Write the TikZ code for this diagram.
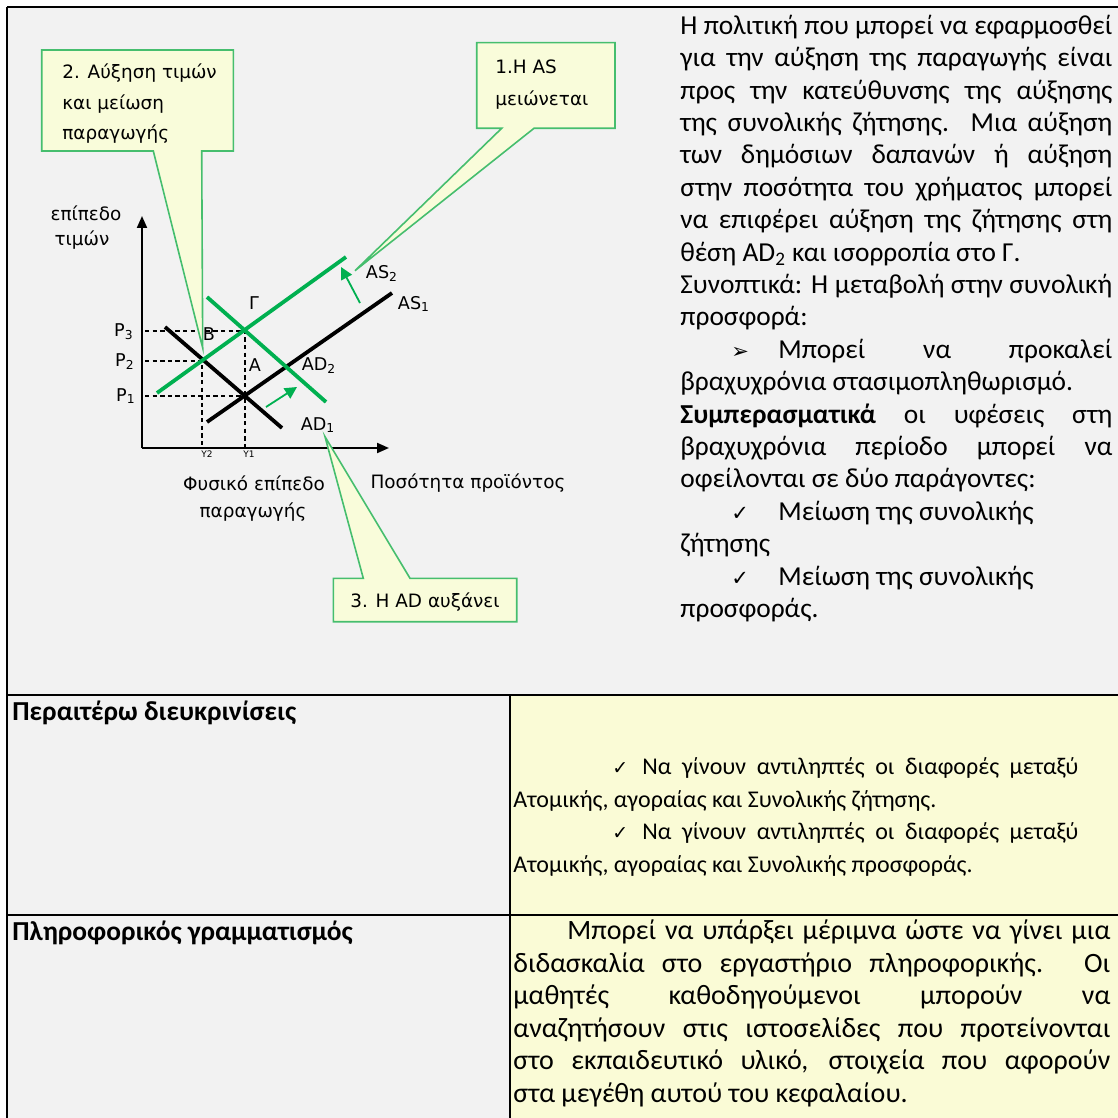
\documentclass[tikz,border=0pt]{standalone}
\usepackage{fontspec}
\setmainfont{Carlito}
\newfontfamily\chartfont{DejaVu Sans}
\newfontfamily\symfont{DejaVu Sans}
\usetikzlibrary{arrows.meta}
\definecolor{bggray}{RGB}{242,242,242}
\definecolor{cellyel}{RGB}{250,251,214}
\definecolor{cofill}{RGB}{249,252,218}
\definecolor{coline}{RGB}{70,190,110}
\definecolor{mgreen}{RGB}{0,176,80}
\newcommand\jl[2]{\hbox to #1{\spaceskip=0.22em plus 1fil minus 0.05em\relax #2}}
\begin{document}
\begin{tikzpicture}[x=0.5pt,y=-0.5pt,
  tbl/.style={line width=1.2pt},
  blk/.style={line width=1.9pt},
  gcurve/.style={line width=1.9pt, mgreen},
  dsh/.style={dash pattern=on 2.2pt off 1.6pt, line width=0.6pt},
  axis/.style={line width=1pt, -{Triangle[length=6pt,width=5pt]}},
  shiftarrow/.style={mgreen, line width=0.9pt, -{Triangle[length=6pt,width=6pt]}},
  callout/.style={fill=cofill, draw=coline, line width=0.8pt, line join=miter},
  ct/.style={font=\chartfont\fontsize{9.2pt}{11pt}\selectfont, inner sep=0},
  lbl/.style={font=\chartfont\fontsize{8.8pt}{10pt}\selectfont, inner sep=0},
  tiny/.style={font=\chartfont\fontsize{4.5pt}{5pt}\selectfont, inner sep=0},
  txt/.style={font=\fontsize{13.7pt}{16pt}\selectfont, inner sep=0, anchor=base west},
  stxt/.style={font=\fontsize{12pt}{14pt}\selectfont, inner sep=0, anchor=base west},
  ltxt/.style={font=\fontsize{14pt}{16pt}\selectfont, inner sep=0, anchor=base west},
  sym/.style={font=\symfont\fontsize{10.5pt}{12pt}\selectfont, inner sep=0, anchor=base west},
  ssym/.style={font=\symfont\fontsize{9.5pt}{11pt}\selectfont, inner sep=0, anchor=base west}]
\useasboundingbox (0,0) rectangle (1118,1118);
% backgrounds
\fill[bggray] (7,7) rectangle (1118,695);
\fill[bggray] (7,695) rectangle (510,1118);
\fill[cellyel] (510,695) rectangle (1118,1118);
% table lines
\draw[tbl] (7,7) -- (1118,7);
\draw[tbl] (7,7) -- (7,1118);
\draw[tbl] (7,695) -- (1118,695);
\draw[tbl] (7,915) -- (1118,915);
\draw[tbl] (510,695) -- (510,1118);

% ---------- chart ----------
\coordinate (O) at (142,448);
\coordinate (ytop) at (142,216);
\coordinate (xend) at (389,448);
\draw[axis] (O) -- (ytop);
\draw[axis] (O) -- (xend);
% dashed guides
\coordinate (p3a) at (145,331); \coordinate (G) at (245,331);
\coordinate (p2a) at (145,361); \coordinate (B) at (202,361);
\coordinate (p1a) at (145,396); \coordinate (E) at (245,396);
\coordinate (y2) at (202,448); \coordinate (y1) at (245,448);
\draw[dsh] (p3a) -- (G) -- (y1);
\draw[dsh] (p2a) -- (B) -- (y2);
\draw[dsh] (p1a) -- (E);
% curves
\coordinate (ad1a) at (165,327); \coordinate (ad1b) at (282,428);
\coordinate (as1a) at (207,422); \coordinate (as1b) at (392,293);
\coordinate (as2a) at (157,393); \coordinate (as2b) at (346,257);
\coordinate (ad2a) at (207,297); \coordinate (ad2b) at (326,402);
\draw[blk] (ad1a) -- (ad1b);
\draw[blk] (as1a) -- (as1b);
\draw[gcurve] (as2a) -- (as2b);
\draw[gcurve] (ad2a) -- (ad2b);
% shift arrows
\coordinate (sa1) at (266,407); \coordinate (sa2) at (297,387);
\coordinate (sb1) at (360,303); \coordinate (sb2) at (341,267);
\draw[shiftarrow] (sa1) -- (sa2);
\draw[shiftarrow] (sb1) -- (sb2);
% labels
\node[ct] (yl1) at (86,213) {επίπεδο};
\node[ct] (yl2) at (82,240) {τιμών};
\node[lbl, anchor=east] (P3) at (134,332) {P\textsubscript{3}};
\node[lbl, anchor=east] (P2) at (135,362) {P\textsubscript{2}};
\node[lbl, anchor=east] (P1) at (136,396) {P\textsubscript{1}};
\node[lbl] (lG) at (254,303) {Γ};
\node[lbl] (lB) at (209,334) {B};
\node[lbl] (lA) at (255,365) {A};
\node[lbl] (lAD2) at (319,366) {AD\textsubscript{2}};
\node[lbl] (lAD1) at (318,425) {AD\textsubscript{1}};
\node[lbl] (lAS2) at (382,273) {AS\textsubscript{2}};
\node[lbl] (lAS1) at (414,304) {AS\textsubscript{1}};
\node[tiny] (lY2) at (207,454) {Y2};
\node[tiny] (lY1) at (249,454) {Y1};
\node[ct] (xl1) at (254,483) {Φυσικό επίπεδο};
\node[ct] (xl2) at (253,512) {παραγωγής};
\node[ct] (xl3) at (468,483) {Ποσότητα προϊόντος};
% callouts
\draw[callout] (41.7,50) -- (233.3,50) -- (233.3,151) -- (201.7,151) -- (202.7,348) -- (153.3,151) -- (41.7,151) -- cycle;
\node[ct, anchor=base west] (c2a) at (62,79) {2. Αύξηση τιμών};
\node[ct, anchor=base west] (c2b) at (62,110) {και μείωση};
\node[ct, anchor=base west] (c2c) at (62,140) {παραγωγής};
\draw[callout] (476.7,42.7) -- (615,42.7) -- (615,128.3) -- (534,128.3) -- (355,270.7) -- (501.7,128.3) -- (476.7,128.3) -- cycle;
\node[ct, anchor=base west] (c1a) at (495,74) {1.Η AS};
\node[ct, anchor=base west] (c1b) at (495,106) {μειώνεται};
\draw[callout] (333.3,578.3) -- (363.3,578.3) -- (325,436.7) -- (410,578.3) -- (516.7,578.3) -- (516.7,621.7) -- (333.3,621.7) -- cycle;
\node[ct, anchor=base] (c3) at (425,607) {3. Η AD αυξάνει};

% ---------- right text ----------
\node[txt] (t1) at (680,34.3) {\jl{216pt}{Η πολιτική που μπορεί να εφαρμοσθεί}};
\node[txt] (t2) at (680,66.7) {\jl{216pt}{για την αύξηση της παραγωγής είναι}};
\node[txt] (t3) at (680,99.1) {\jl{216pt}{προς την κατεύθυνσης της αύξησης}};
\node[txt] (t4) at (680,131.5) {\jl{216pt}{της συνολικής ζήτησης. Μια αύξηση}};
\node[txt] (t5) at (680,163.9) {\jl{216pt}{των δημόσιων δαπανών ή αύξηση}};
\node[txt] (t6) at (680,196.3) {\jl{216pt}{στην ποσότητα του χρήματος μπορεί}};
\node[txt] (t7) at (680,228.7) {\jl{216pt}{να επιφέρει αύξηση της ζήτησης στη}};
\node[txt] (t8) at (680,261.1) {θέση AD\textsubscript{2} και ισορροπία στο Γ.};
\node[txt] (t9) at (680,293.5) {\jl{216pt}{Συνοπτικά: Η μεταβολή στην συνολική}};
\node[txt] (t10) at (680,325.9) {προσφορά:};
\node[sym] (b11) at (731,358.3) {➢};
\node[txt] (t11) at (778,358.3) {\jl{167pt}{Μπορεί να προκαλεί}};
\node[txt] (t12) at (680,390.7) {βραχυχρόνια στασιμοπληθωρισμό.};
\node[txt] (t13) at (680,423.1) {\jl{216pt}{\textbf{Συμπερασματικά} οι υφέσεις στη}};
\node[txt] (t14) at (680,455.5) {\jl{216pt}{βραχυχρόνια περίοδο μπορεί να}};
\node[txt] (t15) at (680,487.9) {οφείλονται σε δύο παράγοντες:};
\node[sym] (b16) at (731,520.3) {✓};
\node[txt] (t16) at (778,520.3) {Μείωση της συνολικής};
\node[txt] (t17) at (680,552.7) {ζήτησης};
\node[sym] (b18) at (731,585.1) {✓};
\node[txt] (t18) at (778,585.1) {Μείωση της συνολικής};
\node[txt] (t19) at (680,617.5) {προσφοράς.};

% ---------- bottom rows ----------
\node[txt] (h1) at (12,720) {\textbf{Περαιτέρω διευκρινίσεις}};
\node[txt] (h2) at (12,940) {\textbf{Πληροφορικός γραμματισμός}};
\node[ssym] (r1b) at (612,774) {✓};
\node[stxt] (r1) at (642,774) {\jl{218pt}{Να γίνουν αντιληπτές οι διαφορές μεταξύ}};
\node[stxt] (r2) at (513,807) {Ατομικής, αγοραίας και Συνολικής ζήτησης.};
\node[ssym] (r3b) at (612,839) {✓};
\node[stxt] (r3) at (642,839) {\jl{218pt}{Να γίνουν αντιληπτές οι διαφορές μεταξύ}};
\node[stxt] (r4) at (513,872) {Ατομικής, αγοραίας και Συνολικής προσφοράς.};
\node[ltxt] (s1) at (567,939) {\jl{271.5pt}{Μπορεί να υπάρξει μέριμνα ώστε να γίνει μια}};
\node[ltxt] (s2) at (513,972) {\jl{298.5pt}{διδασκαλία στο εργαστήριο πληροφορικής. Οι}};
\node[ltxt] (s3) at (513,1004) {\jl{298.5pt}{μαθητές καθοδηγούμενοι μπορούν να}};
\node[ltxt] (s4) at (513,1037) {\jl{298.5pt}{αναζητήσουν στις ιστοσελίδες που προτείνονται}};
\node[ltxt] (s5) at (513,1069) {\jl{298.5pt}{στο εκπαιδευτικό υλικό, στοιχεία που αφορούν}};
\node[ltxt] (s6) at (513,1102) {στα μεγέθη αυτού του κεφαλαίου.};
\end{tikzpicture}
\end{document}
